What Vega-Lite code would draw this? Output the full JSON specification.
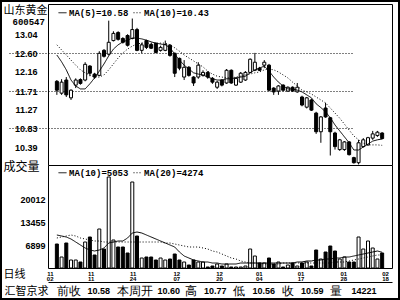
{
"$schema": "https://vega.github.io/schema/vega-lite/v6.json",
"width": 400, "height": 300, "autosize": "none", "padding": 0, "background": "white",
"config": {
  "view": {"stroke": "black", "strokeWidth": 4},
  "axis": {"domainColor": "black", "domainWidth": 1, "labelColor": "black", "titleColor": "black", "grid": false, "ticks": false, "labelFlush": false, "labelOverlap": false, "labelBound": false, "labelFont": "Liberation Sans", "labelFontWeight": "bold", "labelFontSize": 9},
  "legend": {"orient": "none", "direction": "horizontal", "padding": 0, "symbolType": "stroke", "symbolSize": 64, "symbolStrokeWidth": 1, "symbolStrokeColor": "black", "labelFont": "Liberation Mono", "labelFontWeight": "bold", "labelFontSize": 9, "labelColor": "black", "labelOffset": 2, "columnPadding": 2}
},
"datasets": {"k": [
{"i":0,"o":11.94,"h":11.97,"l":11.62,"c":11.73,"v":7410,"m5":12.56,"m10":12.80,"vm10":9975,"vm20":9120},
{"i":1,"o":11.66,"h":11.99,"l":11.62,"c":11.92,"v":3705,"m5":12.40,"m10":12.68,"vm10":9690,"vm20":9405},
{"i":2,"o":11.97,"h":12.04,"l":11.57,"c":11.62,"v":7695,"m5":12.21,"m10":12.56,"vm10":9405,"vm20":9690},
{"i":3,"o":11.55,"h":11.75,"l":11.50,"c":11.73,"v":2850,"m5":11.97,"m10":12.44,"vm10":8835,"vm20":9975},
{"i":4,"o":11.85,"h":12.01,"l":11.78,"c":11.97,"v":2850,"m5":11.83,"m10":12.32,"vm10":7980,"vm20":9690},
{"i":5,"o":11.98,"h":12.01,"l":11.86,"c":11.89,"v":2280,"m5":11.76,"m10":12.21,"vm10":7125,"vm20":9120},
{"i":6,"o":11.97,"h":12.39,"l":11.94,"c":12.34,"v":7980,"m5":11.76,"m10":12.14,"vm10":6270,"vm20":8835},
{"i":7,"o":12.30,"h":12.32,"l":12.06,"c":12.13,"v":9405,"m5":11.88,"m10":12.09,"vm10":5700,"vm20":8550},
{"i":8,"o":12.11,"h":12.14,"l":12.00,"c":12.04,"v":4275,"m5":12.02,"m10":12.04,"vm10":5415,"vm20":8265},
{"i":9,"o":12.08,"h":12.65,"l":12.06,"c":12.60,"v":11685,"m5":12.18,"m10":12.04,"vm10":5700,"vm20":8265},
{"i":10,"o":12.67,"h":12.70,"l":12.50,"c":12.53,"v":5985,"m5":12.35,"m10":12.09,"vm10":6270,"vm20":7980},
{"i":11,"o":12.58,"h":13.37,"l":12.55,"c":12.86,"v":26505,"m5":12.54,"m10":12.21,"vm10":7695,"vm20":7980},
{"i":12,"o":12.90,"h":13.12,"l":12.88,"c":13.07,"v":8550,"m5":12.70,"m10":12.35,"vm10":7980,"vm20":7980},
{"i":13,"o":13.09,"h":13.12,"l":12.90,"c":12.93,"v":6555,"m5":12.80,"m10":12.49,"vm10":8265,"vm20":7980},
{"i":14,"o":12.95,"h":12.98,"l":12.83,"c":12.86,"v":6555,"m5":12.87,"m10":12.61,"vm10":8265,"vm20":7980},
{"i":15,"o":13.02,"h":13.05,"l":12.76,"c":12.79,"v":4845,"m5":12.91,"m10":12.70,"vm10":9120,"vm20":7980},
{"i":16,"o":12.95,"h":13.42,"l":12.93,"c":13.16,"v":25080,"m5":12.96,"m10":12.77,"vm10":10545,"vm20":7980},
{"i":17,"o":13.16,"h":13.20,"l":12.65,"c":12.67,"v":9690,"m5":12.96,"m10":12.82,"vm10":10830,"vm20":7980},
{"i":18,"o":12.67,"h":12.85,"l":12.60,"c":12.80,"v":3420,"m5":12.94,"m10":12.84,"vm10":10545,"vm20":7980},
{"i":19,"o":12.90,"h":12.92,"l":12.70,"c":12.74,"v":3705,"m5":12.91,"m10":12.84,"vm10":9975,"vm20":7980},
{"i":20,"o":12.81,"h":12.84,"l":12.70,"c":12.72,"v":3705,"m5":12.87,"m10":12.84,"vm10":9405,"vm20":7980},
{"i":21,"o":12.83,"h":12.86,"l":12.60,"c":12.62,"v":2850,"m5":12.84,"m10":12.84,"vm10":8835,"vm20":7980},
{"i":22,"o":12.67,"h":12.78,"l":12.64,"c":12.74,"v":3420,"m5":12.82,"m10":12.84,"vm10":8265,"vm20":7980},
{"i":23,"o":12.67,"h":12.90,"l":12.65,"c":12.81,"v":2850,"m5":12.80,"m10":12.84,"vm10":7695,"vm20":7695},
{"i":24,"o":12.79,"h":12.82,"l":12.52,"c":12.55,"v":3135,"m5":12.73,"m10":12.80,"vm10":7125,"vm20":7695},
{"i":25,"o":12.60,"h":12.62,"l":12.04,"c":12.13,"v":4560,"m5":12.58,"m10":12.73,"vm10":6555,"vm20":7410},
{"i":26,"o":12.48,"h":12.50,"l":12.20,"c":12.25,"v":2850,"m5":12.44,"m10":12.65,"vm10":5130,"vm20":7125},
{"i":27,"o":12.04,"h":12.44,"l":11.97,"c":12.27,"v":2280,"m5":12.32,"m10":12.56,"vm10":3990,"vm20":6840},
{"i":28,"o":12.27,"h":12.30,"l":12.05,"c":12.08,"v":1425,"m5":12.23,"m10":12.49,"vm10":3420,"vm20":6555},
{"i":29,"o":12.04,"h":12.06,"l":11.83,"c":11.90,"v":2850,"m5":12.14,"m10":12.42,"vm10":2850,"vm20":6555},
{"i":30,"o":12.04,"h":12.39,"l":12.00,"c":12.32,"v":2280,"m5":12.11,"m10":12.35,"vm10":2565,"vm20":6555},
{"i":31,"o":12.08,"h":12.20,"l":12.05,"c":12.15,"v":2280,"m5":12.09,"m10":12.28,"vm10":2280,"vm20":6270},
{"i":32,"o":12.15,"h":12.18,"l":12.00,"c":12.04,"v":855,"m5":12.04,"m10":12.18,"vm10":2280,"vm20":5985},
{"i":33,"o":12.01,"h":12.04,"l":11.88,"c":11.92,"v":1140,"m5":12.00,"m10":12.11,"vm10":1995,"vm20":5415},
{"i":34,"o":11.80,"h":11.95,"l":11.76,"c":11.92,"v":1710,"m5":11.97,"m10":12.06,"vm10":1995,"vm20":5130},
{"i":35,"o":11.97,"h":11.99,"l":11.82,"c":11.85,"v":1140,"m5":11.97,"m10":12.04,"vm10":1710,"vm20":4560},
{"i":36,"o":11.90,"h":12.23,"l":11.88,"c":12.20,"v":1710,"m5":12.00,"m10":12.02,"vm10":1710,"vm20":3990},
{"i":37,"o":12.20,"h":12.22,"l":11.88,"c":11.90,"v":855,"m5":12.00,"m10":12.02,"vm10":1710,"vm20":3420},
{"i":38,"o":11.85,"h":12.04,"l":11.83,"c":12.01,"v":855,"m5":12.02,"m10":12.04,"vm10":1710,"vm20":3135},
{"i":39,"o":11.92,"h":12.16,"l":11.90,"c":12.13,"v":855,"m5":12.04,"m10":12.06,"vm10":1995,"vm20":2565},
{"i":40,"o":11.97,"h":12.18,"l":11.95,"c":12.15,"v":1140,"m5":12.06,"m10":12.09,"vm10":1995,"vm20":2280},
{"i":41,"o":12.15,"h":12.48,"l":12.13,"c":12.46,"v":5985,"m5":12.14,"m10":12.11,"vm10":1995,"vm20":1995},
{"i":42,"o":12.20,"h":12.61,"l":12.18,"c":12.39,"v":3990,"m5":12.21,"m10":12.14,"vm10":1995,"vm20":1995},
{"i":43,"o":12.25,"h":12.28,"l":12.18,"c":12.20,"v":1995,"m5":12.25,"m10":12.16,"vm10":1995,"vm20":1995},
{"i":44,"o":12.32,"h":12.44,"l":12.25,"c":12.39,"v":1995,"m5":12.30,"m10":12.21,"vm10":1995,"vm20":1710},
{"i":45,"o":12.32,"h":12.35,"l":11.70,"c":11.73,"v":3420,"m5":12.18,"m10":12.23,"vm10":1995,"vm20":1710},
{"i":46,"o":11.78,"h":11.80,"l":11.62,"c":11.69,"v":1710,"m5":12.04,"m10":12.21,"vm10":1995,"vm20":1710},
{"i":47,"o":11.71,"h":11.85,"l":11.62,"c":11.83,"v":2280,"m5":11.92,"m10":12.16,"vm10":1995,"vm20":1710},
{"i":48,"o":11.85,"h":11.87,"l":11.70,"c":11.73,"v":855,"m5":11.83,"m10":12.09,"vm10":1995,"vm20":1995},
{"i":49,"o":11.71,"h":11.82,"l":11.69,"c":11.80,"v":1425,"m5":11.76,"m10":12.02,"vm10":1995,"vm20":1995},
{"i":50,"o":11.80,"h":11.82,"l":11.69,"c":11.71,"v":1995,"m5":11.76,"m10":11.92,"vm10":1995,"vm20":1995},
{"i":51,"o":11.69,"h":11.90,"l":11.67,"c":11.80,"v":1140,"m5":11.73,"m10":11.83,"vm10":2280,"vm20":1995},
{"i":52,"o":11.57,"h":11.60,"l":11.35,"c":11.38,"v":1995,"m5":11.69,"m10":11.73,"vm10":2280,"vm20":1995},
{"i":53,"o":11.33,"h":11.57,"l":11.30,"c":11.55,"v":2280,"m5":11.62,"m10":11.69,"vm10":2565,"vm20":1995},
{"i":54,"o":11.50,"h":11.53,"l":11.24,"c":11.26,"v":1140,"m5":11.55,"m10":11.64,"vm10":2565,"vm20":1995},
{"i":55,"o":11.19,"h":11.22,"l":10.70,"c":10.75,"v":5700,"m5":11.41,"m10":11.57,"vm10":2850,"vm20":1995},
{"i":56,"o":10.75,"h":11.12,"l":10.49,"c":11.10,"v":3135,"m5":11.32,"m10":11.50,"vm10":2850,"vm20":1995},
{"i":57,"o":11.31,"h":11.43,"l":11.08,"c":11.10,"v":5130,"m5":11.22,"m10":11.43,"vm10":3135,"vm20":1995},
{"i":58,"o":11.08,"h":11.10,"l":10.19,"c":10.75,"v":6840,"m5":11.08,"m10":11.31,"vm10":3135,"vm20":1995},
{"i":59,"o":10.72,"h":10.75,"l":10.33,"c":10.40,"v":5415,"m5":10.91,"m10":11.19,"vm10":3420,"vm20":2280},
{"i":60,"o":10.33,"h":10.58,"l":10.30,"c":10.56,"v":3135,"m5":10.77,"m10":11.07,"vm10":3420,"vm20":2280},
{"i":61,"o":10.33,"h":10.53,"l":10.30,"c":10.51,"v":3705,"m5":10.63,"m10":10.93,"vm10":3705,"vm20":2280},
{"i":62,"o":10.51,"h":10.53,"l":10.19,"c":10.21,"v":2280,"m5":10.49,"m10":10.79,"vm10":3705,"vm20":2565},
{"i":63,"o":10.14,"h":10.16,"l":10.00,"c":10.02,"v":2280,"m5":10.32,"m10":10.65,"vm10":3990,"vm20":2850},
{"i":64,"o":10.02,"h":10.56,"l":9.98,"c":10.49,"v":9405,"m5":10.32,"m10":10.56,"vm10":4275,"vm20":3135},
{"i":65,"o":10.40,"h":10.60,"l":10.38,"c":10.56,"v":5985,"m5":10.39,"m10":10.48,"vm10":4560,"vm20":3420},
{"i":66,"o":10.44,"h":10.63,"l":10.42,"c":10.61,"v":8265,"m5":10.46,"m10":10.44,"vm10":4845,"vm20":3705},
{"i":67,"o":10.60,"h":10.77,"l":10.56,"c":10.70,"v":6270,"m5":10.53,"m10":10.44,"vm10":5130,"vm20":3990},
{"i":68,"o":10.66,"h":10.77,"l":10.63,"c":10.74,"v":3135,"m5":10.56,"m10":10.44,"vm10":5415,"vm20":4275},
{"i":69,"o":10.72,"h":10.74,"l":10.57,"c":10.59,"v":4845,"m5":10.58,"m10":10.43,"vm10":5053,"vm20":4274}
]},
"data": {"name": "k"},
"layer": [
  {
    "layer": [
      {
        "mark": {"type": "rule", "color": "black", "strokeWidth": 1},
        "encoding": {
          "x": {"field": "i", "type": "quantitative", "scale": {"domain": [-0.82, 70.03], "range": [48, 392], "nice": false, "zero": false},
                "axis": {"orient": "top", "offset": -4, "labels": false, "domain": true, "title": "600547", "titleX": 12, "titleY": 17, "titleAlign": "left", "titleBaseline": "middle", "titleAngle": 0, "titleFont": "Liberation Mono", "titleFontSize": 9, "titleFontWeight": "bold"}},
          "y": {"field": "l", "type": "quantitative", "scale": {"domain": [9.966, 13.763], "range": [165, 4], "nice": false, "zero": false},
                "axis": {"orient": "left", "offset": -48, "values": [13.04, 12.6, 12.16, 11.71, 11.27, 10.83, 10.39], "format": ".2f", "labelPadding": 11, "domain": true, "title": "山东黄金", "titleAngle": 0, "titleAlign": "left", "titleBaseline": "top", "titleX": -45, "titleY": 4, "titleFont": "Noto Sans CJK SC", "titleFontSize": 11, "titleFontWeight": "normal"}},
          "y2": {"field": "h"}
        }
      },
      {
        "mark": {"type": "bar", "size": 3, "stroke": "black", "strokeWidth": 1},
        "encoding": {
          "x": {"field": "i", "type": "quantitative", "scale": {"domain": [-0.82, 70.03], "range": [48, 392], "nice": false, "zero": false},
                "axis": {"orient": "top", "offset": -165, "labels": false, "domain": true, "title": null}},
          "y": {"field": "o", "type": "quantitative", "scale": {"domain": [9.966, 13.763], "range": [165, 4], "nice": false, "zero": false},
                "axis": {"orient": "right", "offset": -8, "labels": false, "domain": true, "grid": true, "values": [12.6, 11.71, 10.83], "gridDash": [1, 2], "gridColor": "black", "gridWidth": 1, "title": null}},
          "y2": {"field": "c"},
          "fill": {"condition": {"test": "datum.c < datum.o", "value": "black"}, "value": "white"}
        }
      },
      {
        "transform": [{"fold": ["m5", "m10"], "as": ["s", "val"]}],
        "mark": {"type": "line", "color": "black", "strokeWidth": 1},
        "encoding": {
          "x": {"field": "i", "type": "quantitative", "scale": {"domain": [-0.82, 70.03], "range": [48, 392], "nice": false, "zero": false}, "axis": null},
          "y": {"field": "val", "type": "quantitative", "scale": {"domain": [9.966, 13.763], "range": [165, 4], "nice": false, "zero": false}, "axis": null},
          "strokeDash": {"field": "s", "type": "nominal", "scale": {"domain": ["m5", "m10"], "range": [[1, 0], [1, 2]]},
                         "legend": {"title": null, "legendX": 58, "legendY": 8, "labelExpr": "datum.value == 'm5' ? 'MA(5)=10.58' : 'MA(10)=10.43'"}}
        }
      }
    ],
    "resolve": {"axis": {"x": "independent", "y": "independent"}}
  },
  {
    "layer": [
      {
        "mark": {"type": "bar", "size": 3, "stroke": "black", "strokeWidth": 1},
        "encoding": {
          "x": {"field": "i", "type": "quantitative", "scale": {"domain": [-0.82, 70.03], "range": [48, 392], "nice": false, "zero": false},
                "axis": {"orient": "bottom", "offset": -32, "values": [-0.82, 7.15, 16.07, 25.34, 34.4, 42.85, 51.7, 60.77, 69.62],
                         "labelExpr": "[['11','02'],['11','11'],['11','24'],['12','07'],['12','20'],['01','04'],['01','17'],['01','28'],['02','18']][indexof([-0.82, 7.15, 16.07, 25.34, 34.4, 42.85, 51.7, 60.77, 69.62], datum.value)]",
                         "labelAlign": {"condition": {"test": "datum.value < 0", "value": "right"}, "value": "center"},
                         "labelBaseline": "top", "labelPadding": 2, "labelFontSize": 6, "labelLineHeight": 5, "domain": true,
                         "title": "日线", "titleX": 3, "titleY": 6, "titleAlign": "left", "titleBaseline": "middle", "titleAngle": 0, "titleFont": "Noto Sans CJK SC", "titleFontSize": 11, "titleFontWeight": "normal"}},
          "y": {"field": "v", "type": "quantitative", "scale": {"domain": [570, 29925], "range": [268, 165], "nice": false, "zero": false},
                "axis": {"orient": "left", "offset": -48, "values": [6899, 13455, 20012], "format": "d", "labelPadding": 3, "domain": true, "title": "成交量", "titleAngle": 0, "titleAlign": "left", "titleBaseline": "top", "titleX": -45, "titleY": 161, "titleFont": "Noto Sans CJK SC", "titleFontSize": 12, "titleFontWeight": "normal"}},
          "y2": {"datum": 570},
          "fill": {"condition": {"test": "datum.c < datum.o", "value": "black"}, "value": "white"}
        }
      },
      {
        "transform": [{"fold": ["vm10", "vm20"], "as": ["s", "val"]}],
        "mark": {"type": "line", "color": "black", "strokeWidth": 1},
        "encoding": {
          "x": {"field": "i", "type": "quantitative", "scale": {"domain": [-0.82, 70.03], "range": [48, 392], "nice": false, "zero": false},
                "axis": {"orient": "bottom", "offset": -18, "values": [0, 6.39, 12.56, 21.22, 26.98, 31.1, 37.28, 41.4, 47.58, 51.7, 57.88, 62.41],
                         "labelExpr": "['前收','10.58','本周开','10.60','高','10.77','低','10.56','收','10.59','量','14221'][indexof([0, 6.39, 12.56, 21.22, 26.98, 31.1, 37.28, 41.4, 47.58, 51.7, 57.88, 62.41], datum.value)]",
                         "labelAlign": "left", "labelBaseline": "middle", "labelPadding": 8,
                         "labelFontSize": {"condition": {"test": "indexof([0, 12.56, 26.98, 37.28, 47.58, 57.88], datum.value) >= 0", "value": 12}, "value": 9},
                         "labelFontWeight": {"condition": {"test": "indexof([0, 12.56, 26.98, 37.28, 47.58, 57.88], datum.value) >= 0", "value": "normal"}, "value": "bold"},
                         "domain": true,
                         "title": "汇智京求", "titleX": 4, "titleY": 9, "titleAlign": "left", "titleBaseline": "middle", "titleAngle": 0, "titleFont": "Noto Sans CJK SC", "titleFontSize": 11, "titleFontWeight": "normal"}},
          "y": {"field": "val", "type": "quantitative", "scale": {"domain": [570, 29925], "range": [268, 165], "nice": false, "zero": false},
                "axis": {"orient": "right", "offset": -8, "labels": false, "domain": true, "title": null}},
          "strokeDash": {"field": "s", "type": "nominal", "scale": {"domain": ["vm10", "vm20"], "range": [[1, 0], [1, 2]]},
                         "legend": {"title": null, "legendX": 58, "legendY": 168, "labelExpr": "datum.value == 'vm10' ? 'MA(10)=5053' : 'MA(20)=4274'"}}
        }
      }
    ],
    "resolve": {"axis": {"x": "independent", "y": "independent"}}
  }
],
"resolve": {"scale": {"y": "independent", "strokeDash": "independent"}, "axis": {"x": "independent", "y": "independent"}, "legend": {"strokeDash": "independent"}}
}
